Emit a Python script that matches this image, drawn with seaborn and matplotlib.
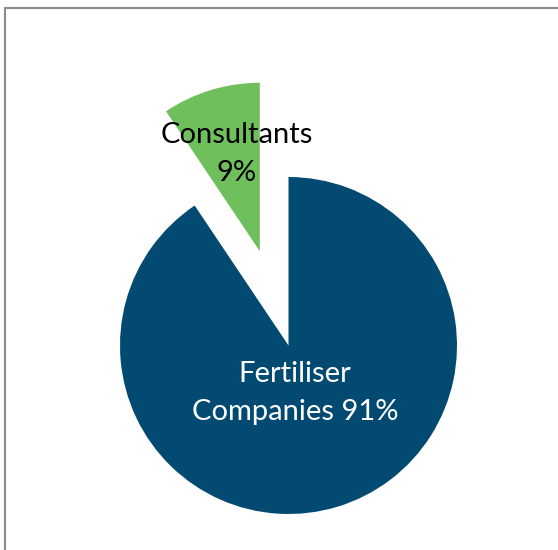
import matplotlib
matplotlib.use("Agg")
import matplotlib.pyplot as plt
import seaborn as sns
from matplotlib.patches import Rectangle

# data (slice sizes; labels as printed)
labels = ["Fertiliser\nCompanies 91%", "Consultants\n9%"]
shares = [90.6, 9.4]
colors = ["#034A72", "#70BF5D"]

sns.set_style("white")
plt.rcParams["font.family"] = ["Lato", "DejaVu Sans"]

fig = plt.figure(figsize=(5.58, 5.5), dpi=100)
ax = fig.add_axes([0, 0, 1, 1])

# pie drawn in pixel-like data units
R = 168.5
wedges, texts = ax.pie(
    shares,
    colors=colors,
    startangle=90,
    counterclock=False,
    radius=R,
    center=(288.5, 204.5),
    explode=[0, 98.5],
    labels=labels,
    labeldistance=None,
    frame=True,
    wedgeprops=dict(linewidth=0),
)
ax.set_xlim(0, 558)
ax.set_ylim(0, 550)
ax.set_aspect("equal")
ax.axis("off")

# labels on the slices
ax.text(295, 157, labels[0], color="white", fontsize=21, ha="center", va="center",
        linespacing=1.58)
ax.text(237, 396, labels[1], color="black", fontsize=21, ha="center", va="center",
        linespacing=1.58)

# chart border (cut off on right and bottom)
fig.patches.append(Rectangle((5 / 558, -0.1), 1.2, (550 - 8) / 550 + 0.1,
                             transform=fig.transFigure, fill=False,
                             edgecolor="#8C8C8C", linewidth=1.5))

fig.savefig("out.png", dpi=100)
